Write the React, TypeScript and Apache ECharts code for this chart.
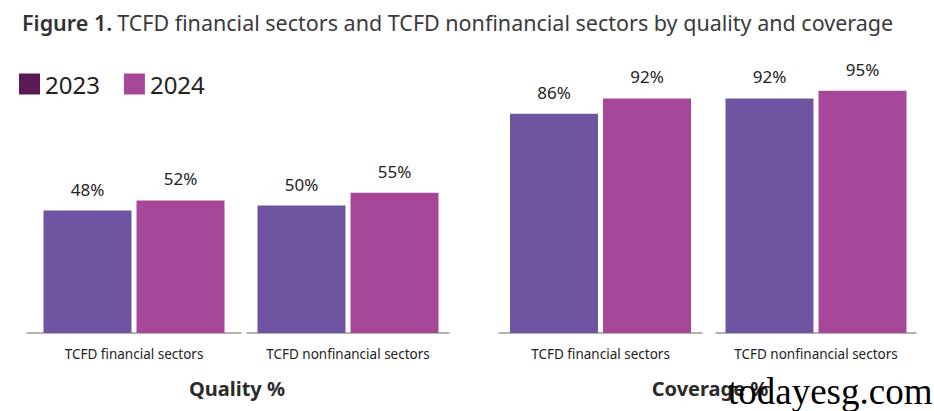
import React, { useEffect, useRef } from "react";
import * as echarts from "echarts";

const years = ["2023", "2024"];
const sectors = ["TCFD financial sectors", "TCFD nonfinancial sectors"];
const quality2023 = [48, 50];
const quality2024 = [52, 55];
const coverage2023 = [86, 92];
const coverage2024 = [92, 95];
const panelTitles = ["Quality %", "Coverage %"];

const BAR_COLORS = ["#6F55A1", "#A6479A"];
const LEGEND_COLORS = ["#5B1A55", "#A6479A"];

export default function App() {
  const ref = useRef<HTMLDivElement>(null);
  useEffect(() => {
    if (!ref.current) return;
    const chart = echarts.init(ref.current, undefined, { renderer: "svg" });
    const font = "Noto Sans";
    // four grids: [quality fin, quality nonfin, coverage fin, coverage nonfin]
    const gridBoxes = [
      { left: 27, width: 214 },
      { left: 247, width: 202 },
      { left: 499, width: 203 },
      { left: 716, width: 200 },
    ];
    const vals2023 = [quality2023[0], quality2023[1], coverage2023[0], coverage2023[1]];
    const vals2024 = [quality2024[0], quality2024[1], coverage2024[0], coverage2024[1]];
    const catOf = [sectors[0], sectors[1], sectors[0], sectors[1]];

    const grids = gridBoxes.map((g) => ({ left: g.left, width: g.width, top: 78, height: 255 }));
    const xAxes = gridBoxes.map((_, i) => ({
      type: "category",
      gridIndex: i,
      data: [catOf[i]],
      axisLine: { show: true, lineStyle: { color: "#9a9a9a", width: 1.5 } },
      axisTick: { show: false },
      axisLabel: { color: "#222", fontFamily: font, fontSize: 13.5, margin: 14 },
    }));
    const yAxes = gridBoxes.map((_, i) => ({
      type: "value",
      gridIndex: i,
      min: 0,
      max: 100,
      show: false,
      splitLine: { show: false },
    }));
    const series: any[] = [];
    gridBoxes.forEach((_, i) => {
      [vals2023, vals2024].forEach((vals, k) => {
        series.push({
          name: years[k],
          type: "bar",
          xAxisIndex: i,
          yAxisIndex: i,
          data: [vals[i]],
          barWidth: 88,
          barGap: "5.7%",
          itemStyle: { color: BAR_COLORS[k] },
          label: {
            show: true,
            position: "top",
            distance: 13,
            formatter: "{c}%",
            color: "#222",
            fontFamily: font,
            fontSize: 17,
          },
        });
      });
    });

    chart.setOption({
      animation: false,
      backgroundColor: "#ffffff",
      color: BAR_COLORS,
      title: {
        left: 17,
        top: 6,
        text: "{b|Figure 1.} {r|TCFD financial sectors and TCFD nonfinancial sectors by quality and coverage}",
        textStyle: {
          rich: {
            b: { fontFamily: font, fontSize: 21.5, fontWeight: 600, color: "#333" },
            r: { fontFamily: font, fontSize: 21.5, fontWeight: 400, color: "#3a3a3a" },
          },
        },
      },
      legend: {
        left: 14,
        top: 67,
        itemWidth: 21,
        itemHeight: 21,
        itemGap: 24,
        icon: "rect",
        data: years.map((y, k) => ({ name: y, itemStyle: { color: LEGEND_COLORS[k] } })),
        textStyle: { fontFamily: font, fontSize: 24, color: "#222" },
      },
      grid: grids,
      xAxis: xAxes,
      yAxis: yAxes,
      series,
      graphic: [
        {
          type: "text",
          x: 237,
          y: 388,
          style: {
            text: panelTitles[0],
            fontFamily: font,
            fontSize: 20,
            fontWeight: 700,
            fill: "#2a2a2a",
            textAlign: "center",
            textVerticalAlign: "middle",
          },
        },
        {
          type: "text",
          x: 710,
          y: 388,
          style: {
            text: panelTitles[1],
            fontFamily: font,
            fontSize: 20,
            fontWeight: 700,
            fill: "#2a2a2a",
            textAlign: "center",
            textVerticalAlign: "middle",
          },
        },
        {
          type: "text",
          x: 728,
          y: 391,
          z: 100,
          style: {
            text: "todayesg.com",
            fontFamily: "Liberation Serif",
            fontSize: 37,
            fill: "#000",
            textAlign: "left",
            textVerticalAlign: "middle",
          },
        },
      ],
    });
    return () => chart.dispose();
  }, []);
  return (
    <div
      ref={ref}
      style={{ position: "fixed", left: 0, top: 0, width: 934, height: 411, background: "#fff" }}
    />
  );
}
